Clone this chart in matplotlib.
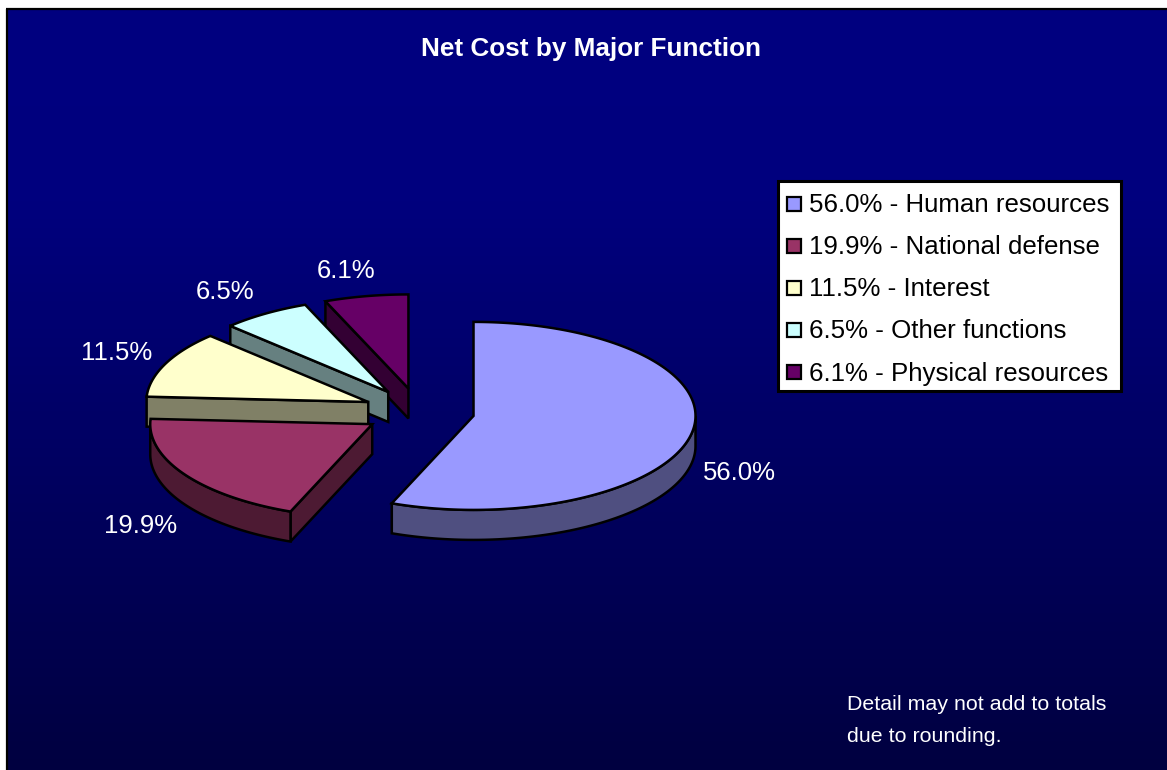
import numpy as np
import matplotlib
matplotlib.use('Agg')
import matplotlib.pyplot as plt
from matplotlib.patches import Polygon, Rectangle

plt.rcParams['font.family'] = ['Liberation Sans', 'DejaVu Sans']

# values
functions = ['Human resources', 'National defense', 'Interest', 'Other functions', 'Physical resources']
shares = [56.0, 19.9, 11.5, 6.5, 6.1]
title = 'Net Cost by Major Function'
note_lines = ['Detail may not add to totals', 'due to rounding.']

top_colors = ['#9999FF', '#993366', '#FFFFCC', '#CCFFFF', '#660066']
side_colors = ['#4F4F80', '#4D1A33', '#808066', '#668080', '#330033']
label_xy = [(739, 473), (141, 526), (117, 353), (225, 292), (346, 271)]

# pie geometry, in pixels
CX, CY = 419, 411.5
RX, RY = 222, 94
DEPTH = 30
EXPLODE = 0.25


def point(x0, y0, angle):
    # angle is clockwise from 12 o'clock
    a = np.radians(angle)
    return x0 + RX * np.sin(a), y0 - RY * np.cos(a)


def draw_slice(ax, start, end, top, side, z):
    mid = (start + end) / 2
    x0, y0 = point(CX, CY, mid)
    x0 = CX + (x0 - CX) * EXPLODE
    y0 = CY + (y0 - CY) * EXPLODE
    style = dict(edgecolor='black', linewidth=1.8, joinstyle='miter', zorder=z)

    # cut faces that look towards the viewer
    sx, sy = point(x0, y0, start)
    if start > 90:
        ax.add_patch(Polygon([(x0, y0), (sx, sy), (sx, sy + DEPTH), (x0, y0 + DEPTH)],
                             facecolor=side, **style))
    # outer wall, only the front half of the ellipse shows
    a0, a1 = max(start, 90), min(end, 270)
    if a1 > a0:
        ang = np.linspace(a0, a1, 120)
        xs, ys = point(x0, y0, ang)
        pts = np.column_stack([np.r_[xs, xs[::-1]], np.r_[ys, ys[::-1] + DEPTH]])
        ax.add_patch(Polygon(pts, facecolor=side, **style))
    # top face
    ang = np.linspace(start, end, 160)
    xs, ys = point(x0, y0, ang)
    pts = np.column_stack([np.r_[x0, xs], np.r_[y0, ys]])
    ax.add_patch(Polygon(pts, facecolor=top, **style))


fig = plt.figure(figsize=(11.67, 7.7), dpi=100, facecolor='white')
ax = fig.add_axes([0, 0, 1, 1])

# background gradient, navy holds for the upper part
ys = np.linspace(9, 770, 256)
rgb = np.zeros((256, 1, 3))
rgb[:, 0, 2] = np.interp(ys, [9, 200, 770], [128, 126, 64]) / 255
ax.imshow(rgb, extent=(7, 1167, 770, 9), aspect='auto', zorder=0)
ax.plot([7, 7], [770, 9], color='black', lw=1.6, zorder=1, solid_capstyle='butt')
ax.plot([6, 1167], [9, 9], color='black', lw=1.6, zorder=1, solid_capstyle='butt')
ax.set_xlim(0, 1167)
ax.set_ylim(770, 0)
ax.axis('off')

edges = np.cumsum([0] + shares) / sum(shares) * 360
# back slices first so the front ones overlap them
for i in range(len(shares) - 1, -1, -1):
    draw_slice(ax, edges[i], edges[i + 1], top_colors[i], side_colors[i], 5 + len(shares) - i)

ax.text(591, 49, title, color='white', fontsize=18.8, fontweight='bold', ha='center', va='center', zorder=20)

for v, (x, y) in zip(shares, label_xy):
    ax.text(x, y, f'{v:.1f}%', color='white', fontsize=18.5, ha='center', va='center', zorder=20)

# legend box
ax.add_patch(Rectangle((778, 181), 343, 210, facecolor='white', edgecolor='black', linewidth=2.2, zorder=20))
for i, (name, v) in enumerate(zip(functions, shares)):
    y = 204 + 42 * i
    ax.add_patch(Rectangle((787, y - 7), 14, 14, facecolor=top_colors[i], edgecolor='black',
                           linewidth=1.6, zorder=21))
    ax.text(809, y + 1.5, f'{v:.1f}% - {name}', color='black', fontsize=18.6, ha='left', va='center', zorder=21)

for i, line in enumerate(note_lines):
    ax.text(847, 705 + 31 * i, line, color='white', fontsize=15.4, ha='left', va='center', zorder=20)

fig.savefig('out.png', dpi=100, facecolor='white')
plt.close(fig)
